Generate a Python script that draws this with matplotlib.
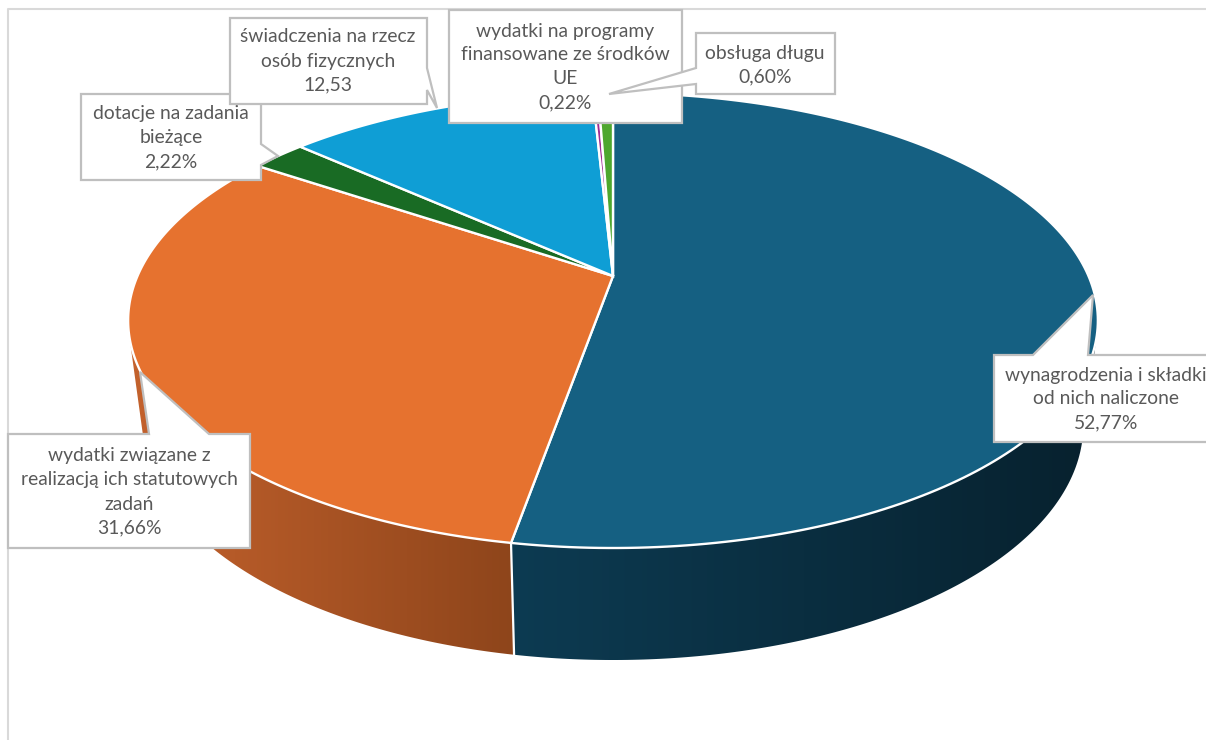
import numpy as np
import matplotlib
matplotlib.use('Agg')
import matplotlib.pyplot as plt
from matplotlib.colors import to_rgb
from matplotlib.patches import Polygon

plt.rcParams['font.family'] = ['Lato', 'DejaVu Sans']

# slices, clockwise from 12 o'clock
categories = ['wynagrodzenia i składki\nod nich naliczone',
              'wydatki związane z\nrealizacją ich statutowych\nzadań',
              'dotacje na zadania\nbieżące',
              'świadczenia na rzecz\nosób fizycznych',
              'wydatki na programy\nfinansowane ze środków\nUE',
              'obsługa długu']
values = [52.77, 31.66, 2.22, 12.53, 0.22, 0.60]
value_labels = ['52,77%', '31,66%', '2,22%', '12,53', '0,22%', '0,60%']
colors = ['#156082', '#E6722F', '#196B24', '#0F9ED5', '#A02B93', '#4EA72E']

# perspective of the top face, in pixels
CX, CY = 613, 276
A, B, K = 475.5, 218.8, 0.1956
# bottom rim is the top rim pushed down and slightly shrunk
SIDE_SX, SIDE_SY = 0.97, 1.033
MID_Y, SIDE_Y = 320.5, 425


def rim(deg):
    t = np.radians(deg)
    u, v = np.sin(t), np.cos(t)
    d = 1 + K * v
    return CX + A * u / d, CY - B * v / d


def lower(x, y):
    return CX + SIDE_SX * (x - CX), SIDE_Y + SIDE_SY * (y - MID_Y)


def hull(points):
    # monotone chain, the wall silhouette runs tangent to both rims
    pts = sorted(map(tuple, points))

    def half(seq):
        out = []
        for p in seq:
            while len(out) > 1 and ((out[-1][0] - out[-2][0]) * (p[1] - out[-2][1])
                                    - (out[-1][1] - out[-2][1]) * (p[0] - out[-2][0])) <= 0:
                out.pop()
            out.append(p)
        return out[:-1]

    return half(pts) + half(pts[::-1])


def side_strip(a0, a1, c_left, c_right):
    # horizontal gradient clipped to the outline of the wall
    x, y = rim(np.linspace(a0, a1, 200))
    xb, yb = lower(x, y)
    pts = hull(np.column_stack([np.r_[x, xb], np.r_[y, yb]]))
    shape = Polygon(pts, closed=True, facecolor='none', edgecolor='none', transform=ax.transData)
    ax.add_patch(shape)
    f = np.linspace(0, 1, 512)[None, :, None]
    grad = np.array(to_rgb(c_left))[None, None, :] * (1 - f) + np.array(to_rgb(c_right))[None, None, :] * f
    x0, x1 = min(x.min(), xb.min()), max(x.max(), xb.max())
    y0, y1 = min(y.min(), yb.min()), max(y.max(), yb.max())
    im = ax.imshow(grad, extent=[x0, x1, y1, y0], aspect='auto', interpolation='bilinear', zorder=1)
    im.set_clip_path(shape)


fig = plt.figure(figsize=(12.06, 7.40), dpi=100)
ax = fig.add_axes([0, 0, 1, 1])
ax.axis('off')

# chart frame
ax.plot([8, 8, 1206], [740, 9, 9], color='#d9d9d9', lw=1.5, zorder=0)

edges = np.concatenate([[0], np.cumsum(values)]) / np.sum(values) * 360

# side of the pie, only the first two slices show at the front
side_strip(82, edges[1], '#0D3B52', '#07212E')
side_strip(edges[1], 282, '#C4622D', '#8E451B')
ax.set_xlim(0, 1206)
ax.set_ylim(740, 0)

xe, ye = rim(edges[1])
xl, yl = lower(xe, ye)
ax.plot([xe, xl], [ye, yl], color='white', lw=1.6, zorder=2)

# top face
for i, c in enumerate(colors):
    x, y = rim(np.linspace(edges[i], edges[i + 1], 200))
    pts = np.column_stack([np.r_[CX, x], np.r_[CY, y]])
    ax.add_patch(Polygon(pts, closed=True, facecolor=c, edgecolor='white', lw=1.7, zorder=3))

# callouts: outline with pointer, label centre
callouts = {
    2: ([(81, 94), (261, 94), (261, 144), (278, 156), (261, 165), (261, 180), (81, 180)], (171, 138)),
    3: ([(230, 18), (427, 18), (427, 68), (437, 108), (427, 90), (427, 104), (230, 104)], (328, 61)),
    4: ([(449, 10), (682, 10), (682, 123), (449, 123)], (565, 67)),
    5: ([(696, 33), (835, 33), (835, 94), (696, 94), (696, 84), (609, 94), (696, 68)], (765, 65)),
    0: ([(994, 355), (1033, 355), (1093, 295), (1088, 355), (1230, 355), (1230, 442), (994, 442)], (1106, 399)),
    1: ([(8, 434), (149, 434), (140, 372), (209, 434), (250, 434), (250, 548), (8, 548)], (129, 492)),
}
for n, i in enumerate(callouts):
    outline, (tx, ty) = callouts[i]
    ax.add_patch(Polygon(outline, closed=True, facecolor='white', edgecolor='#bfbfbf', lw=1.6, zorder=5 + n))
    ax.text(tx, ty, categories[i] + '\n' + value_labels[i], ha='center', va='center',
            fontsize=13.9, color='#595959', linespacing=1.5, zorder=5 + n)

fig.savefig('out.png', dpi=100)
plt.close(fig)
